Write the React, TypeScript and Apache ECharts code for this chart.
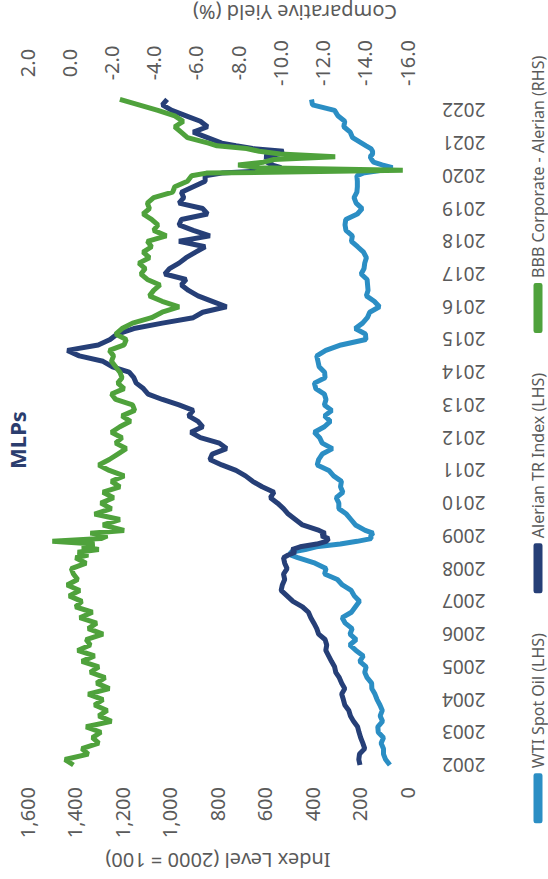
import React, { useEffect, useRef } from 'react';
import * as echarts from 'echarts';

const DATES = [
  '2002-01','2002-03','2002-05','2002-07','2002-09','2002-11',
  '2003-01','2003-03','2003-05','2003-07','2003-09','2003-11',
  '2004-01','2004-03','2004-05','2004-07','2004-09','2004-11',
  '2005-01','2005-03','2005-05','2005-07','2005-09','2005-11',
  '2006-01','2006-03','2006-05','2006-07','2006-09','2006-11',
  '2007-01','2007-03','2007-05','2007-07','2007-09','2007-11',
  '2008-01','2008-03','2008-05','2008-06','2008-07','2008-08','2008-09','2008-10','2008-11','2008-12',
  '2009-01','2009-02','2009-03','2009-05','2009-07','2009-09','2009-11',
  '2010-01','2010-03','2010-05','2010-07','2010-09','2010-11',
  '2011-01','2011-03','2011-05','2011-07','2011-09','2011-11',
  '2012-01','2012-03','2012-05','2012-07','2012-09','2012-11',
  '2013-01','2013-03','2013-05','2013-07','2013-09','2013-11',
  '2014-01','2014-03','2014-05','2014-07','2014-09','2014-11',
  '2015-01','2015-03','2015-05','2015-07','2015-09','2015-11',
  '2016-01','2016-03','2016-05','2016-07','2016-09','2016-11',
  '2017-01','2017-03','2017-05','2017-07','2017-09','2017-11',
  '2018-01','2018-03','2018-05','2018-07','2018-09','2018-11',
  '2019-01','2019-03','2019-05','2019-07','2019-09','2019-11',
  '2020-01','2020-02','2020-03','2020-04','2020-05','2020-06','2020-07','2020-08','2020-09','2020-10','2020-11','2020-12',
  '2021-01','2021-03','2021-05','2021-07','2021-09','2021-11',
  '2022-01','2022-03','2022-05',
];

const WTI_SPOT_OIL = [
  72, 90, 99, 99, 109, 99,
  121, 123, 103, 113, 104, 114,
  126, 135, 148, 149, 168, 178,
  172, 199, 184, 215, 241, 214,
  240, 231, 260, 273, 234, 217,
  200, 222, 235, 272, 293, 347,
  341, 387, 460, 491, 490, 428, 382, 281, 210, 151,
  153, 143, 176, 217, 236, 255, 287,
  287, 298, 270, 280, 276, 309,
  329, 378, 372, 357, 314, 357,
  368, 390, 348, 323, 347, 317,
  348, 341, 348, 384, 390, 345,
  347, 370, 375, 380, 342, 278,
  173, 175, 218, 187, 167, 157,
  116, 138, 171, 164, 166, 168,
  193, 181, 178, 171, 183, 208,
  234, 230, 257, 261, 258, 209,
  189, 214, 223, 211, 209, 209,
  211, 185, 107, 61, 105, 141, 149, 155, 145, 145, 152, 172,
  191, 229, 239, 266, 262, 291,
  305, 398, 402,
];

const ALERIAN_TR = [
  198, 203, 200, 178, 186, 195,
  202, 208, 225, 238, 245, 262,
  268, 275, 262, 275, 285, 300,
  305, 318, 330, 342, 338, 345,
  372, 380, 392, 405, 415, 440,
  480, 505, 530, 525, 515, 520,
  505, 515, 520, 500, 470, 485, 450, 380, 340, 330,
  360, 345, 370, 440, 470, 500, 520,
  545, 575, 560, 610, 650, 680,
  720, 780, 830, 820, 760, 790,
  870, 910, 860, 880, 920, 900,
  960, 1030, 1090, 1110, 1140, 1150,
  1170, 1240, 1280, 1380, 1430, 1300,
  1250, 1220, 1150, 1030, 900, 860,
  760, 820, 880, 920, 950, 930,
  1020, 1000, 960, 930, 890, 850,
  960, 830, 900, 960, 950, 840,
  860, 960, 940, 950, 900, 850,
  850, 780, 560, 530, 570, 590, 560, 600, 540, 520, 650, 720,
  780, 840, 900, 840, 870, 930,
  990, 1030, 1010,
];

const BBB_MINUS_ALERIAN = [
  -0.2, 0.2, -0.9, -0.6, -1.4, -1.1,
  -1.5, -0.8, -2.0, -1.4, -1.8, -1.2,
  -1.6, -0.9, -1.9, -1.3, -1.7, -1.0,
  -1.4, -0.6, -1.2, -0.4, -1.0, -0.8,
  -1.6, -0.9, -1.3, -0.5, -1.1, -0.3,
  -0.6, 0.0, -0.5, 0.1, -0.4, -0.2,
  -0.1, -0.8, -0.3, -0.9, -0.4, -1.4, -0.6, -1.2, 0.8, -1.5,
  -1.8, -1.0, -2.6, -1.6, -2.4, -1.2, -2.0,
  -1.5, -2.1, -1.6, -2.4, -2.0, -2.6,
  -1.9, -1.4, -1.9, -2.3, -2.7, -2.2,
  -2.5, -2.0, -2.4, -2.9, -2.5, -3.1,
  -3.0, -2.2, -2.0, -2.6, -2.3, -2.5,
  -2.4, -2.2, -2.0, -2.1, -1.9, -2.6,
  -2.7, -2.2, -2.5, -3.0, -3.9, -4.4,
  -5.2, -4.4, -3.8, -4.0, -4.3, -3.7,
  -3.4, -3.6, -3.3, -3.8, -3.5, -3.9,
  -3.7, -4.6, -4.0, -4.2, -3.9, -3.5,
  -3.8, -3.7, -4.0, -4.9, -5.0, -5.6,
  -5.8, -6.5, -15.8, -9.0, -8.0, -9.2, -9.7, -12.6, -10.0, -9.0, -8.4, -7.0,
  -6.6, -5.6, -5.3, -5.0, -5.4, -5.0,
  -4.2, -3.3, -2.4,
];

const SERIES_NAMES = ['WTI Spot Oil (LHS)', 'Alerian TR Index (LHS)', 'BBB Corporate - Alerian (RHS)'];
const TITLE = 'MLPs';
const LEFT_AXIS_NAME = 'Index Level (2000 = 100)';
const RIGHT_AXIS_NAME = 'Comparative Yield (%)';

const FONT = '"Noto Sans", sans-serif';
const TEXT_COLOR = '#5a5a5a';

function toYear(s: string): number {
  const [y, m] = s.split('-').map(Number);
  return y + (m - 1) / 12;
}

function pairs(values: number[]) {
  return DATES.map((d, i) => [toYear(d), values[i]]);
}

export default function App() {
  const ref = useRef<HTMLDivElement>(null);

  useEffect(() => {
    if (!ref.current) return;
    const chart = echarts.init(ref.current, undefined, { renderer: 'svg' });
    chart.setOption({
      animation: false,
      backgroundColor: '#ffffff',
      title: {
        text: TITLE,
        left: 434,
        textAlign: 'center',
        top: 1,
        textStyle: { fontSize: 22, fontWeight: 'bold', color: '#2b3d6e', fontFamily: FONT },
      },
      legend: {
        top: 525,
        left: 'center',
        icon: 'roundRect',
        itemWidth: 50,
        itemHeight: 9,
        itemGap: 40,
        textStyle: { fontSize: 16, color: TEXT_COLOR, fontFamily: FONT },
        data: SERIES_NAMES,
      },
      grid: { left: 114, right: 94, top: 27, bottom: 141, outerBoundsMode: 'none' },
      xAxis: {
        type: 'value',
        min: 2002,
        max: 2022.5,
        interval: 1,
        axisLine: { show: false },
        axisTick: { show: false },
        splitLine: { show: false },
        axisLabel: {
          rotate: 90,
          margin: 35,
          fontSize: 19,
          color: TEXT_COLOR,
          fontFamily: FONT,
          formatter: (v: number) => (Number.isInteger(v) ? String(v) : ''),
        },
      },
      yAxis: [
        {
          type: 'value',
          position: 'left',
          min: 0,
          max: 1600,
          interval: 200,
          axisLine: { show: false },
          axisTick: { show: false },
          splitLine: { show: false },
          axisLabel: {
            margin: 22,
            fontSize: 20,
            color: TEXT_COLOR,
            fontFamily: FONT,
            formatter: (v: number) => v.toLocaleString('en-US'),
          },
        },
        {
          type: 'value',
          position: 'right',
          min: -16,
          max: 2,
          interval: 2,
          axisLine: { show: false },
          axisTick: { show: false },
          splitLine: { show: false },
          axisLabel: {
            margin: 31,
            align: 'center',
            fontSize: 20,
            color: TEXT_COLOR,
            fontFamily: FONT,
            formatter: (v: number) => v.toFixed(1),
          },
        },
      ],
      graphic: [
        {
          type: 'text',
          x: 19,
          y: 218,
          rotation: Math.PI / 2,
          style: {
            text: LEFT_AXIS_NAME,
            fontSize: 20,
            fontFamily: FONT,
            fill: TEXT_COLOR,
            align: 'center',
            verticalAlign: 'middle',
          },
        },
        {
          type: 'text',
          x: 867,
          y: 295,
          rotation: Math.PI / 2,
          style: {
            text: RIGHT_AXIS_NAME,
            fontSize: 20,
            fontFamily: FONT,
            fill: TEXT_COLOR,
            align: 'center',
            verticalAlign: 'middle',
          },
        },
      ],
      series: [
        {
          name: SERIES_NAMES[0],
          type: 'line',
          yAxisIndex: 0,
          showSymbol: false,
          color: '#2b8ec4',
          lineStyle: { width: 5, color: '#2b8ec4' },
          data: pairs(WTI_SPOT_OIL),
        },
        {
          name: SERIES_NAMES[1],
          type: 'line',
          yAxisIndex: 0,
          showSymbol: false,
          color: '#263f77',
          lineStyle: { width: 5, color: '#263f77' },
          data: pairs(ALERIAN_TR),
        },
        {
          name: SERIES_NAMES[2],
          type: 'line',
          yAxisIndex: 1,
          showSymbol: false,
          color: '#4fa23c',
          lineStyle: { width: 5, color: '#4fa23c' },
          data: pairs(BBB_MINUS_ALERIAN),
        },
      ],
    });
    return () => chart.dispose();
  }, []);

  return (
    <div
      style={{
        position: 'fixed',
        left: 0,
        top: 0,
        width: 548,
        height: 879,
        overflow: 'hidden',
        background: '#ffffff',
      }}
    >
      <div
        ref={ref}
        style={{
          position: 'absolute',
          left: 0,
          top: 0,
          width: 879,
          height: 548,
          transformOrigin: '0 0',
          transform: 'translateY(879px) rotate(-90deg)',
        }}
      />
    </div>
  );
}
